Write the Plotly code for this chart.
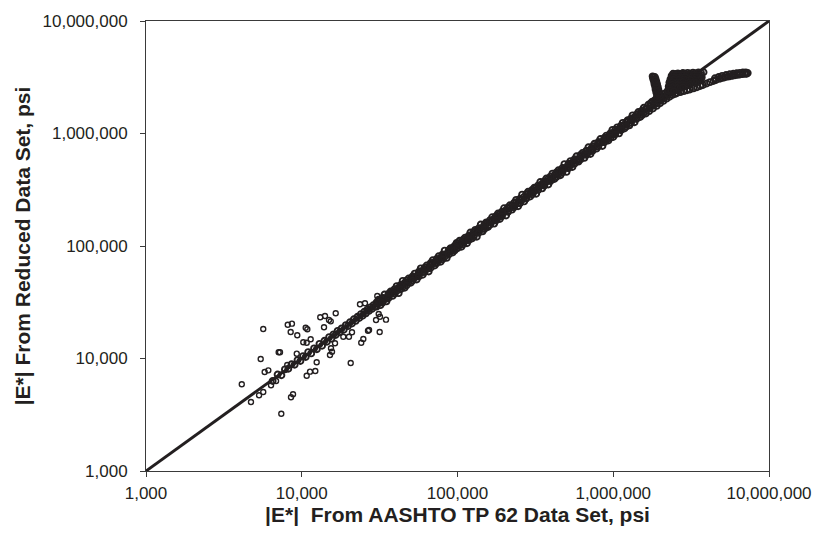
import plotly.graph_objects as go

# ---------------- data (psi) ----------------
# scattered low-modulus points
scatter_x = [5660, 4120, 4720, 5450, 5320, 5660, 5780, 6100, 6350, 6840, 7390, 7110, 7250, 8130, 8650,
             8490, 9360, 10600, 10860, 11410, 10230, 10760, 9290, 8070, 8530, 8790, 10760, 11300, 12220,
             12470, 13150, 14100, 16520, 14960, 15350, 13900, 15410, 15180, 15640, 16350, 20620, 18490,
             20100, 21020, 24100, 24850, 26630, 27040, 31650, 34750, 23660, 25470, 31200, 29990, 31790, 30550]
scatter_y = [18300, 5900, 4100, 9900, 4710, 5040, 7590, 7850, 5780, 6310, 3230, 11350, 11350, 19950, 20400,
             17200, 16070, 18790, 18190, 14820, 13930, 13800, 11040, 8750, 4520, 4810, 7030, 7640, 7740,
             9250, 23230, 23870, 25220, 21990, 21390, 18940, 12330, 10740, 11490, 13650, 9120, 15630,
             15630, 17100, 13810, 14900, 17670, 17920, 17200, 22140, 30330, 30970, 24870, 21990, 23500, 35940]

# points close to the equality line, low range
low_x = [6500, 7000, 7400, 7800, 8200, 8600, 9000, 9400, 9800, 10200, 10600, 11000, 11500, 12000, 12500,
         13000, 13500, 14000, 14500, 15000, 15500, 16000, 16500, 17000, 17500, 18000, 18600, 19200, 19800,
         20400, 21000, 21600, 22200, 22800, 23400, 24000, 24600, 25200, 25800, 26400, 27000, 27600, 28200,
         28800, 29400]
low_y = [6300, 7200, 7100, 8000, 8100, 8900, 8800, 9700, 9500, 10500, 10300, 11400, 11100, 12300, 12100,
         13500, 13000, 14400, 14100, 15500, 15000, 16400, 16200, 17600, 17100, 18500, 18000, 19800, 19400,
         21000, 20500, 22300, 21600, 23500, 22900, 24800, 24000, 26000, 25200, 27200, 26500, 28500, 27600,
         29700, 28800]

# main band, centre row
band_x = [30200, 31100, 32000, 33000, 34000, 35000, 36100, 37200, 38300, 39500, 40700, 41900, 43200, 44500,
          45800, 47200, 48600, 50100, 51600, 53100, 54700, 56400, 58100, 59800, 61600, 63400, 65300, 67300,
          69300, 71400, 73500, 75700, 78000, 80300, 82700, 85200, 87800, 90400, 93100, 95900, 98800,
          100000, 103000, 106000, 109000, 112000, 115000, 118000, 121000, 124000, 127000, 130000, 133000,
          137000, 141000, 145000, 149000, 153000, 157000, 162000, 167000, 172000, 177000, 182000, 187000,
          193000, 199000, 205000, 211000, 217000, 224000, 231000, 238000, 245000, 252000, 260000, 268000,
          276000, 284000, 293000, 302000, 311000, 320000, 330000, 340000, 350000, 361000, 372000, 383000,
          395000, 407000, 419000, 432000, 445000, 458000, 472000, 486000, 501000, 516000, 531000, 547000,
          564000, 581000, 598000, 616000, 634000, 653000, 673000, 693000, 714000, 735000, 757000, 780000,
          803000, 827000, 852000, 878000, 904000, 931000, 959000, 988000,
          1000000, 1030000, 1060000, 1090000, 1120000, 1150000, 1180000, 1210000, 1240000, 1270000,
          1300000, 1330000, 1370000, 1410000, 1450000, 1490000, 1530000, 1570000, 1620000]
band_y = [30800, 30800, 33000, 32300, 34300, 34000, 36800, 37200, 39400, 39100, 39900, 42700, 43600, 43200,
          47200, 47200, 47600, 51100, 53100, 52600, 53600, 57000, 59800, 58600, 61600, 64700, 63300, 68000,
          70700, 70700, 75700, 74200, 78800, 81900, 80200, 85200, 89600, 89500, 95900, 94000, 99800,
          101000, 101000, 109200, 109000, 110900, 117300, 114500, 122200, 126500, 124500, 133900, 131700,
          137000, 143800, 142100, 150500, 157600, 152300, 163600, 165300, 175400, 177000, 178400, 192600,
          191100, 201000, 209100, 204700, 217000, 228500, 228700, 245100, 240100, 254500, 257400, 273400,
          267700, 289700, 293000, 305000, 304800, 329600, 326700, 343400, 357000, 353800, 372000, 394500,
          391100, 398900, 427400, 436300, 431700, 467200, 472000, 490900, 496000, 531500, 520400, 552500,
          575300, 575200, 580100, 628300, 640300, 653000, 693200, 679100, 721100, 727700, 772100, 764400,
          827100, 827000, 843500, 895600, 876900, 940300, 978200, 978100,
          1010000, 1009000, 1081000, 1090000, 1086000, 1173000, 1192000, 1198000, 1277000, 1245000,
          1313000, 1330000, 1397000, 1382000, 1494000, 1475000, 1545000, 1523000, 1652000]

# main band, outer upper edge
upper_x = [31100, 34000, 37200, 40700, 44500, 48600, 53100, 58100, 63400, 69300, 75700, 82700, 90400, 98800,
           103000, 112000, 121000, 130000, 141000, 153000, 167000, 182000, 199000, 217000, 238000, 260000,
           284000, 311000, 340000, 372000, 407000, 445000, 486000, 531000, 581000, 634000, 693000, 757000,
           827000, 904000, 988000, 1060000, 1150000, 1240000, 1330000, 1450000, 1570000]
upper_y = [33300, 37100, 39400, 44000, 49000, 51500, 56800, 63300, 67200, 74800, 81000, 91000, 95800, 106700,
           111200, 118700, 131900, 139100, 155100, 162200, 180400, 194700, 216900, 230000, 257000, 286000,
           303900, 329700, 370600, 398000, 439600, 471700, 534600, 568200, 627500, 672000, 755400, 810000,
           893200, 958200, 1077000, 1134000, 1242000, 1314000, 1450000, 1552000, 1696000]

# main band, outer lower edge
lower_x = [32000, 35000, 38300, 41900, 45800, 50100, 54700, 59800, 65300, 71400, 78000, 85200, 93100,
           106000, 115000, 124000, 133000, 145000, 157000, 172000, 187000, 205000, 224000, 245000, 268000,
           293000, 320000, 350000, 383000, 419000, 458000, 501000, 547000, 598000, 653000, 714000, 780000,
           852000, 931000, 1000000, 1090000, 1180000, 1270000, 1370000, 1490000, 1620000]
lower_y = [29800, 32200, 36000, 38100, 42600, 47100, 50300, 55600, 59400, 67100, 72500, 78400, 87500,
           98600, 105800, 116600, 121000, 134900, 147600, 158200, 173900, 186600, 210600, 225400, 249200,
           275400, 291200, 325500, 352400, 393900, 425900, 455900, 503200, 562100, 607300, 656900, 733200,
           775300, 865800, 930000, 1003000, 1109000, 1181000, 1260000, 1401000, 1507000]

# main band, inner rows
mid_x = [30200, 33000, 36100, 39500, 43200, 47200, 51600, 56400, 61600, 67300, 73500, 80300, 87800, 95900,
         100000, 109000, 118000, 127000, 137000, 149000, 162000, 177000, 193000, 211000, 231000, 252000,
         276000, 302000, 330000, 361000, 395000, 432000, 472000, 516000, 564000, 616000, 673000, 735000,
         803000, 878000, 959000, 1030000, 1120000, 1210000, 1300000, 1410000, 1530000]
mid_up_y = [31500, 34600, 37600, 41400, 45100, 49500, 53800, 59100, 64200, 70600, 76700, 84200, 91600, 100600,
            104500, 114100, 123200, 132800, 143500, 155400, 169700, 184700, 202200, 220400, 242000, 263100,
            289000, 315400, 345700, 376900, 413800, 451100, 494300, 538700, 590800, 643300, 705000, 767600,
            841100, 916800, 1004000, 1077000, 1173000, 1263000, 1361000, 1472000, 1602000]
mid_lo_y = [28900, 31400, 34500, 37600, 41300, 44900, 49300, 53700, 58900, 64100, 70200, 76400, 83900, 91300,
            95500, 103700, 112800, 120900, 131000, 141800, 154800, 168500, 184400, 200900, 220800, 239900,
            263700, 287500, 315300, 343700, 377500, 411300, 451100, 491200, 539000, 586400, 643100, 699700,
            767400, 835900, 916500, 981000, 1070000, 1152000, 1242000, 1347000, 1457000]

# high-modulus region: along line, spikes, cluster and flattening branch
high_x = [1650000, 1700000, 1750000, 1800000, 1850000, 1900000, 1950000, 2000000, 2060000, 2120000,
          2180000, 2250000, 2320000, 2400000, 2480000, 2560000,
          1700000, 1800000, 1900000, 2000000, 2100000, 2200000, 2300000, 2400000, 2500000,
          1680000, 1780000, 1880000, 2100000, 1730000, 1830000, 1980000, 2040000, 2160000,
          1920000, 1910000, 1890000, 1870000, 1860000, 1840000, 1830000, 1810000, 1800000, 1790000,
          1990000, 1970000, 1950000, 1930000, 1910000, 1890000, 1870000, 1850000,
          1960000, 1940000, 1920000, 1900000, 1880000, 1860000,
          2240000, 2250000, 2270000, 2300000, 2330000, 2370000, 2420000,
          2340000, 2360000, 2390000, 2430000, 2470000, 2520000,
          2600000, 2700000, 2800000, 2900000, 3000000, 3120000, 3250000, 3380000, 3520000, 3660000, 3800000,
          2570000, 2700000, 2840000, 2980000, 3110000, 3280000, 3450000, 3620000, 3770000, 3980000,
          4180000, 4400000, 4570000, 4840000, 5050000, 5220000, 5450000, 5620000, 5850000, 6050000,
          6280000, 6510000, 6750000, 7010000, 7200000,
          4500000, 4750000, 5000000, 5300000, 5600000, 5900000, 6200000, 6500000, 6800000, 7100000, 7300000]
high_y = [1680000, 1660000, 1780000, 1760000, 1870000, 1850000, 1990000, 1950000, 2080000, 2060000,
          2190000, 2200000, 2300000, 2330000, 2420000, 2450000,
          1580000, 1670000, 1760000, 1860000, 1950000, 2040000, 2120000, 2200000, 2250000,
          1800000, 1920000, 2020000, 2250000, 1850000, 1950000, 2100000, 2160000, 2280000,
          2050000, 2180000, 2320000, 2460000, 2600000, 2740000, 2880000, 3020000, 3150000, 3220000,
          2150000, 2300000, 2450000, 2600000, 2750000, 2900000, 3050000, 3180000,
          2230000, 2380000, 2530000, 2680000, 2830000, 2980000,
          2240000, 2420000, 2620000, 2830000, 3040000, 3250000, 3400000,
          2350000, 2550000, 2780000, 3000000, 3220000, 3380000,
          3420000, 3380000, 3450000, 3400000, 3460000, 3410000, 3470000, 3430000, 3480000, 3440000, 3500000,
          2290000, 2330000, 2380000, 2420000, 2460000, 2520000, 2580000, 2640000, 2700000, 2780000,
          2860000, 2930000, 2990000, 3070000, 3120000, 3160000, 3200000, 3230000, 3260000, 3290000,
          3320000, 3350000, 3370000, 3390000, 3400000,
          3100000, 3180000, 3250000, 3310000, 3360000, 3400000, 3430000, 3460000, 3480000, 3490000, 3450000]

# dense cluster between the spikes and the flattening branch
mass_x = [2450000, 2550000, 2650000, 2750000, 2850000, 2950000, 3050000, 3150000, 3250000, 3350000, 3450000,
          3550000, 3650000,
          2400000, 2500000, 2600000, 2700000, 2800000, 2900000, 3000000, 3100000, 3200000, 3300000, 3400000,
          3500000, 3600000, 3700000,
          2350000, 2450000, 2550000, 2650000, 2750000, 2850000, 2950000, 3050000, 3150000, 3250000, 3350000,
          3450000, 3550000, 3650000,
          2300000, 2400000, 2500000, 2600000, 2700000, 2800000, 2900000, 3000000, 3100000, 3200000, 3300000,
          3400000,
          2300000, 2400000, 2500000, 2600000, 2700000, 2800000, 2900000, 3000000, 3100000,
          2300000, 2400000, 2500000, 2600000, 2700000, 2800000,
          2250000, 2350000, 2450000]
mass_y = [3300000, 3320000, 3280000, 3310000, 3290000, 3330000, 3300000, 3270000, 3320000, 3290000, 3310000,
          3280000, 3300000,
          3150000, 3170000, 3130000, 3160000, 3140000, 3180000, 3150000, 3120000, 3160000, 3140000, 3170000,
          3130000, 3150000, 3160000,
          3000000, 3020000, 2980000, 3010000, 2990000, 3030000, 3000000, 2970000, 3020000, 2990000, 3010000,
          2980000, 3000000, 3020000,
          2850000, 2870000, 2830000, 2860000, 2840000, 2880000, 2850000, 2820000, 2860000, 2840000, 2870000,
          2830000,
          2700000, 2720000, 2680000, 2710000, 2690000, 2730000, 2700000, 2670000, 2720000,
          2550000, 2570000, 2530000, 2560000, 2540000, 2580000,
          2400000, 2420000, 2380000]

# line of equality
line_x = [1000, 10000000]
line_y = [1000, 10000000]

tick_vals = [1000, 10000, 100000, 1000000, 10000000]
tick_text = ["1,000", "10,000", "100,000", "1,000,000", "10,000,000"]

# ---------------- figure ----------------
INK = "#231f20"
AXC = "#3a3a3a"
FONT = "Liberation Sans, Arial, Helvetica, sans-serif"

dense_x = low_x + band_x + upper_x + lower_x + mid_x + mid_x + high_x + mass_x
dense_y = low_y + band_y + upper_y + lower_y + mid_up_y + mid_lo_y + high_y + mass_y

fig = go.Figure()
fig.add_trace(go.Scatter(
    x=line_x, y=line_y, mode="lines",
    line=dict(color=INK, width=3), hoverinfo="skip", showlegend=False))
fig.add_trace(go.Scatter(
    x=scatter_x, y=scatter_y, mode="markers",
    marker=dict(symbol="circle-open", size=5, color=INK, line=dict(width=1.4, color=INK)),
    showlegend=False))
fig.add_trace(go.Scatter(
    x=dense_x, y=dense_y, mode="markers",
    marker=dict(symbol="circle-open", size=6, color=INK, line=dict(width=1.9, color=INK)),
    showlegend=False))

axis_common = dict(
    type="log", range=[3, 7], tickvals=tick_vals, ticktext=tick_text,
    showgrid=False, zeroline=False, automargin=False,
    showline=True, linecolor=AXC, linewidth=1, mirror=True,
    ticks="outside", ticklen=5, tickwidth=1, tickcolor=AXC,
    tickfont=dict(family=FONT, size=17, color=INK),
)

fig.update_xaxes(**axis_common, ticklabelstandoff=2,
                 title=dict(text="<b>|E*|  From AASHTO TP 62 Data Set, psi</b>",
                            font=dict(family=FONT, size=21, color=INK), standoff=4))
fig.update_yaxes(**axis_common, ticklabelstandoff=9,
                 title=dict(text="<b>|E*| From Reduced Data Set, psi</b>",
                            font=dict(family=FONT, size=21, color=INK), standoff=6))

fig.update_layout(
    width=814, height=534,
    margin=dict(l=146, r=45, t=21, b=63, pad=0),
    paper_bgcolor="white", plot_bgcolor="white",
    font=dict(family=FONT, color=INK),
)

fig.write_html("out.html")
